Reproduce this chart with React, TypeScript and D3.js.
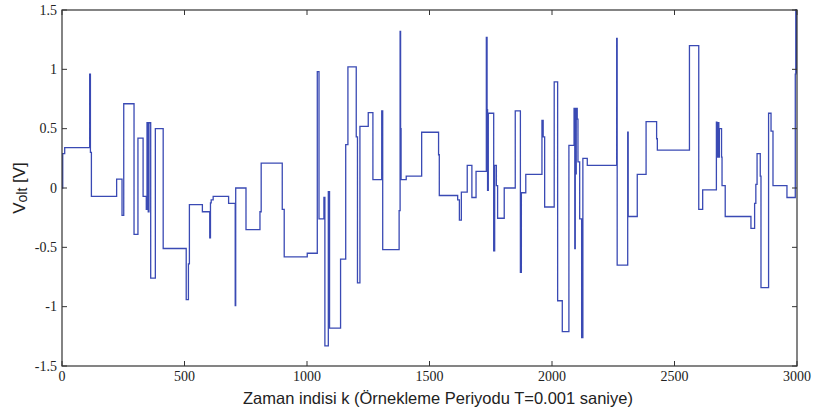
import React from "react";
import * as d3 from "d3";

// Step signal: sample index where each level starts, and its value (V)
const stepK: number[] = [
  0, 3, 11, 113, 116, 120, 223, 245, 252, 294, 310, 331, 344, 347, 352, 355, 362, 381, 413,
  507, 516, 520, 573, 603, 606, 609, 617, 680, 707, 709, 751, 808, 813, 899, 907,
  1001, 1042, 1049, 1069, 1073, 1087, 1092, 1137, 1158, 1167, 1201, 1206, 1216, 1250, 1269, 1305, 1309,
  1376, 1380, 1382, 1384, 1405, 1468, 1537, 1540, 1615, 1622, 1630, 1654, 1673, 1690, 1732, 1735, 1737,
  1740, 1762, 1766, 1773, 1778, 1805, 1850, 1871, 1875, 1893, 1959, 1964, 1970,
  2009, 2023, 2042, 2069, 2090, 2093, 2095, 2097, 2099, 2103, 2106, 2113, 2121, 2126, 2144,
  2264, 2266, 2309, 2311, 2348, 2384, 2427, 2430, 2561, 2599, 2615, 2671, 2673, 2675, 2677, 2679, 2681,
  2683, 2690, 2692, 2694, 2707, 2812, 2827, 2832, 2837, 2850, 2853, 2884, 2894, 2902, 2959,
  2993, 2995, 2996, 2997, 2998, 2999, 3000,
];
const stepV: number[] = [
  0, 0.29, 0.34, 0.96, 0.3, -0.07, 0.074, -0.23, 0.71, -0.39, 0.42, -0.07, -0.18, 0.55, -0.2, 0.55, -0.76, 0.5, -0.51,
  -0.94, -0.64, -0.14, -0.2, -0.42, -0.125, -0.1, -0.07, -0.13, -0.99, 0.0, -0.35, -0.2, 0.21, -0.18, -0.58,
  -0.55, 0.98, -0.26, -0.08, -1.33, -0.03, -1.18, -0.6, 0.365, 1.02, 0.43, -0.8, 0.52, 0.635, 0.07, 0.65, -0.52,
  -0.19, 1.32, 0.5, 0.07, 0.1, 0.47, 0.28, -0.063, -0.1, -0.27, -0.035, 0.19, -0.08, 0.14, 1.27, 0.66, -0.02,
  0.63, -0.53, 0.19, 0.02, -0.255, 0.0, 0.65, -0.71, -0.04, 0.114, 0.57, 0.43, -0.16,
  0.894, -0.95, -1.21, 0.36, 0.67, -0.51, 0.67, 0.12, 0.67, 0.58, 0.22, -0.26, -1.26, 0.25, 0.19,
  1.26, -0.65, 0.47, -0.24, 0.114, 0.56, 0.415, 0.32, 1.2, -0.18, -0.015, 0.555, 0.26, 0.55, 0.26, 0.55, 0.26,
  0.5, 0.5, 0.26, 0.02, -0.24, -0.34, -0.13, 0.03, 0.29, 0.1, -0.84, 0.63, 0.48, 0.02, -0.08,
  0.96, 1.5, 0.97, 1.5, 0.97, 1.5, 1.5,
];

const xTicks: number[] = [0, 500, 1000, 1500, 2000, 2500, 3000];
const yTicks: number[] = [-1.5, -1, -0.5, 0, 0.5, 1, 1.5];

const W = 816;
const H = 412;
const M = { left: 62, right: 19, top: 10, bottom: 46 };

export default function App() {
  const x = d3.scaleLinear().domain([0, 3000]).range([M.left, W - M.right]);
  const y = d3.scaleLinear().domain([-1.5, 1.5]).range([H - M.bottom, M.top]);
  const pts: [number, number][] = stepK.map((k, i) => [k, stepV[i]]);
  const line = d3
    .line<[number, number]>()
    .x((d) => x(d[0]))
    .y((d) => y(d[1]))
    .curve(d3.curveStepAfter);
  const x0 = x(0), x1 = x(3000), y0 = y(-1.5), y1 = y(1.5);
  const tl = 5;
  const serif = "Liberation Serif, DejaVu Serif, serif";
  const sans = "Liberation Sans, Arial, sans-serif";
  return (
    <svg
      width={W}
      height={H}
      style={{ position: "absolute", left: 0, top: 0, background: "#fff" }}
    >
      <rect x={0} y={0} width={W} height={H} fill="#fff" />
      <defs>
        <clipPath id="plotclip">
          <rect x={x0} y={y1 - 1} width={x1 - x0} height={y0 - y1 + 2} />
        </clipPath>
      </defs>
      <path
        d={line(pts) || ""}
        fill="none"
        stroke="#3a4ab4"
        strokeWidth={1.3}
        clipPath="url(#plotclip)"
      />
      <rect x={x0} y={y1} width={x1 - x0} height={y0 - y1} fill="none" stroke="#333" strokeWidth={1.2} />
      {xTicks.map((t) => (
        <g key={"x" + t}>
          <line x1={x(t)} x2={x(t)} y1={y0} y2={y0 - tl} stroke="#333" />
          <line x1={x(t)} x2={x(t)} y1={y1} y2={y1 + tl} stroke="#333" />
          <text
            x={x(t)}
            y={y0 + 15}
            textAnchor="middle"
            style={{ fontFamily: serif, fontSize: 14 }}
            fill="#222"
          >
            {t}
          </text>
        </g>
      ))}
      {yTicks.map((t) => (
        <g key={"y" + t}>
          <line x1={x0} x2={x0 + tl} y1={y(t)} y2={y(t)} stroke="#333" />
          <line x1={x1} x2={x1 - tl} y1={y(t)} y2={y(t)} stroke="#333" />
          <text
            x={x0 - 5}
            y={y(t) + 4.5}
            textAnchor="end"
            style={{ fontFamily: serif, fontSize: 14 }}
            fill="#222"
          >
            {t}
          </text>
        </g>
      ))}
      <text
        x={438}
        y={404}
        textAnchor="middle"
        style={{ fontFamily: sans, fontSize: 16.5 }}
        fill="#222"
      >
        Zaman indisi k (Örnekleme Periyodu T=0.001 saniye)
      </text>
      <text
        transform={`translate(25, ${y(0)}) rotate(-90)`}
        textAnchor="middle"
        style={{ fontFamily: sans, fontSize: 17 }}
        fill="#222"
      >
        V
        <tspan style={{ fontSize: 14 }} dy={2}>olt</tspan>
        <tspan dy={-2}> [V]</tspan>
      </text>
    </svg>
  );
}
